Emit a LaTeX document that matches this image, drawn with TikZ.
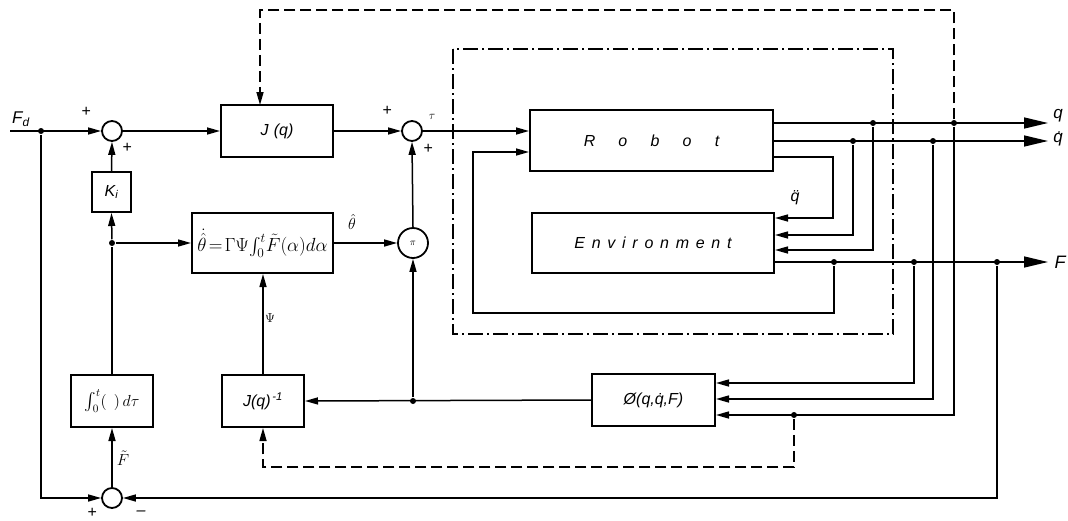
\documentclass[tikz,border=0pt]{standalone}
\usepackage{amsmath}
\usepackage{fix-cm}
\usepackage{fontspec}
\setmainfont{Liberation Sans}
\newfontfamily\robotfont[LetterSpace=145]{Liberation Sans}
\newfontfamily\envfont[LetterSpace=42]{Liberation Sans}
\usetikzlibrary{arrows.meta}

\begin{document}
\begin{tikzpicture}[x=1pt, y=-1pt, line width=1.5pt,
      arr/.style={-{Triangle[length=13pt,width=7pt]}},
      bigarr/.style={-{Triangle[length=24pt,width=11pt]}},
      blockbox/.style={draw, line width=2pt, inner sep=0pt, align=center,
                       font=\fontsize{16}{18}\selectfont\itshape},
      sumnode/.style={circle, draw, line width=1.8pt, minimum size=20pt, inner sep=0pt},
      dot/.style={circle, fill, inner sep=0pt, minimum size=6pt},
      sign/.style={font=\fontsize{16}{18}\selectfont\itshape, inner sep=1pt},
      dashline/.style={dash pattern=on 11pt off 5pt},
      dashdotline/.style={dash pattern=on 15pt off 4pt on 2pt off 4pt}
    ]
    \useasboundingbox (0,0) rectangle (1068,520);
    % LEFT: sums, gains, integrator
    \node[sumnode] (sumA) at (112,131) {};
    \node[blockbox, minimum width=39pt, minimum height=40pt] (ki) at (111.5,192) {K\textsubscript{i}};
    \node[blockbox, minimum width=82pt, minimum height=52pt] (integ) at (112,401) {$\int_0^t(\;\,)\,d\tau$};
    \node[sumnode] (sumC) at (112,498) {};
    % MIDDLE: jacobian, adaptation law, product
    \node[blockbox, minimum width=112pt, minimum height=52pt] (jq) at (277,131) {J\,\,(q)};
    \node[blockbox, minimum width=141pt, minimum height=60pt, font=\fontsize{19}{21}\selectfont] (theta) at (262.5,243)
      {$\dot{\hat{\theta}}\!=\!\Gamma\Psi\!\int_0^t\!\tilde{F}(\alpha)d\alpha$};
    \node[blockbox, minimum width=82pt, minimum height=52pt] (jinv) at (263,401) {J(q)\textsuperscript{\,-1}};
    \node[sumnode] (sumB) at (412,131) {};
    \node[sumnode, minimum size=30pt, font=\normalsize] (pinode) at (413,243) {$\pi$};
    % RIGHT: plant, environment, regressor
    \node[blockbox, minimum width=243pt, minimum height=61pt] (robot) at (651.5,140.5)
      {\robotfont\itshape Robot};
    \node[blockbox, minimum width=242pt, minimum height=60pt] (env) at (653,243)
      {\envfont\itshape Environment};
    \node[blockbox, minimum width=123pt, minimum height=52pt] (phi) at (653.5,400) {Ø(q,\.{q},F)};
    \draw[dashdotline] (453,49) rectangle (893,334);

    % junction points
    \node[dot] (jfd) at (41,131) {};
    \node[dot] (jint) at (112,243) {};
    \node[dot] (jphi) at (413,401) {};
    \node[dot] (jq1) at (873,123) {};
    \node[dot] (jq2) at (954,123) {};
    \node[dot] (jdq1) at (853,141) {};
    \node[dot] (jdq2) at (933,141) {};
    \node[dot] (jf1) at (834,262) {};
    \node[dot] (jf2) at (914,262) {};
    \node[dot] (jf3) at (997,262) {};
    \node[dot] (jdash) at (794,415) {};
    \coordinate (fdin) at (10,131);
    \coordinate (qout) at (1048,123);
    \coordinate (dqout) at (1048,141);
    \coordinate (fout) at (1048,262);

    % forward path
    \draw[arr] (fdin) -- (sumA.west);
    \draw[arr] (sumA.east) -- (jq.west);
    \draw[arr] (jq.east) -- (sumB.west);
    \draw[arr] (sumB.east) -- (sumB.east -| robot.west);
    \draw[arr] (ki.north) -- (sumA.south);
    \draw (integ.north) -- (jint);
    \draw[arr] (jint) -- (ki.south);
    \draw[arr] (jint) -- (jint -| theta.west);
    \draw[arr] (theta.east) -- (pinode.west);
    \draw[arr] (pinode.north) -- (sumB.south);
    \draw[arr] (jinv.north) -- (jinv.north |- theta.south);
    \draw[arr] (phi.west) -- (jinv.east);
    \draw[arr] (jphi) -- (pinode.south);
    \draw[arr] (sumC.north) -- (integ.south);
    \draw[arr] (jfd) -- (41,498) -- (sumC.west);

    % robot and environment signals
    \draw[bigarr] (robot.east |- jq1) -- (qout);
    \draw[bigarr] (robot.east |- jdq1) -- (dqout);
    \draw[bigarr] (env.east |- jf1) -- (fout);
    \draw[arr] (robot.east |- 0,157) -- (833,157) -- (833,218) -- (env.east |- 0,218);
    \draw[arr] (jdq1) -- (853,235) -- (env.east |- 0,235);
    \draw[arr] (jq1) -- (873,250) -- (env.east |- 0,250);
    \draw[arr] (jf1) -- (834,313) -- (473,313) -- (473,152) -- (robot.west |- 0,152);
    \draw[arr] (jf2) -- (914,383) -- (phi.east |- 0,383);
    \draw[arr] (jdq2) -- (933,399) -- (phi.east |- 0,399);
    \draw[arr] (jq2) -- (954,415) -- (phi.east |- 0,415);
    \draw[arr] (jf3) -- (997,498) -- (sumC.east);

    % dashed adaptation links
    \draw[arr, dashline] (jq2) -- (954,10) -- (260,10) -- (260,105);
    \draw[arr, dashline] (jdash) -- (794,467) -- (263,467) -- (jinv.south);

    % labels
    \node[sign, font=\fontsize{17}{19}\selectfont\itshape] (lfd) at (21,119) {F\textsubscript{d}};
    \node[sign] (lsa1) at (86,112) {+};
    \node[sign] (lsa2) at (127,148) {+};
    \node[sign] (lsb1) at (387,111) {+};
    \node[sign] (lsb2) at (428,149) {+};
    \node[sign, font=\fontsize{12}{14}\selectfont] (ltau) at (432,117) {$\tau$};
    \node[sign] (lsc1) at (92,513) {+};
    \node[sign] (lsc2) at (141,513) {\textendash};
    \node[sign] (lthetahat) at (352,222) {$\hat{\theta}$};
    \node[sign, font=\fontsize{13}{15}\selectfont] (lpsi) at (270,318) {$\Psi$};
    \node[sign] (lftil) at (123,458) {$\tilde{F}$};
    \node[sign] (lddq) at (795,198) {\"{q}};
    \node[sign, font=\fontsize{17}{19}\selectfont\itshape] (lq) at (1058,116) {q};
    \node[sign, font=\fontsize{17}{19}\selectfont\itshape] (ldq) at (1058,139) {\.{q}};
    \node[sign, font=\fontsize{18}{20}\selectfont\itshape] (lf) at (1060,262) {F};
\end{tikzpicture}
\end{document}
